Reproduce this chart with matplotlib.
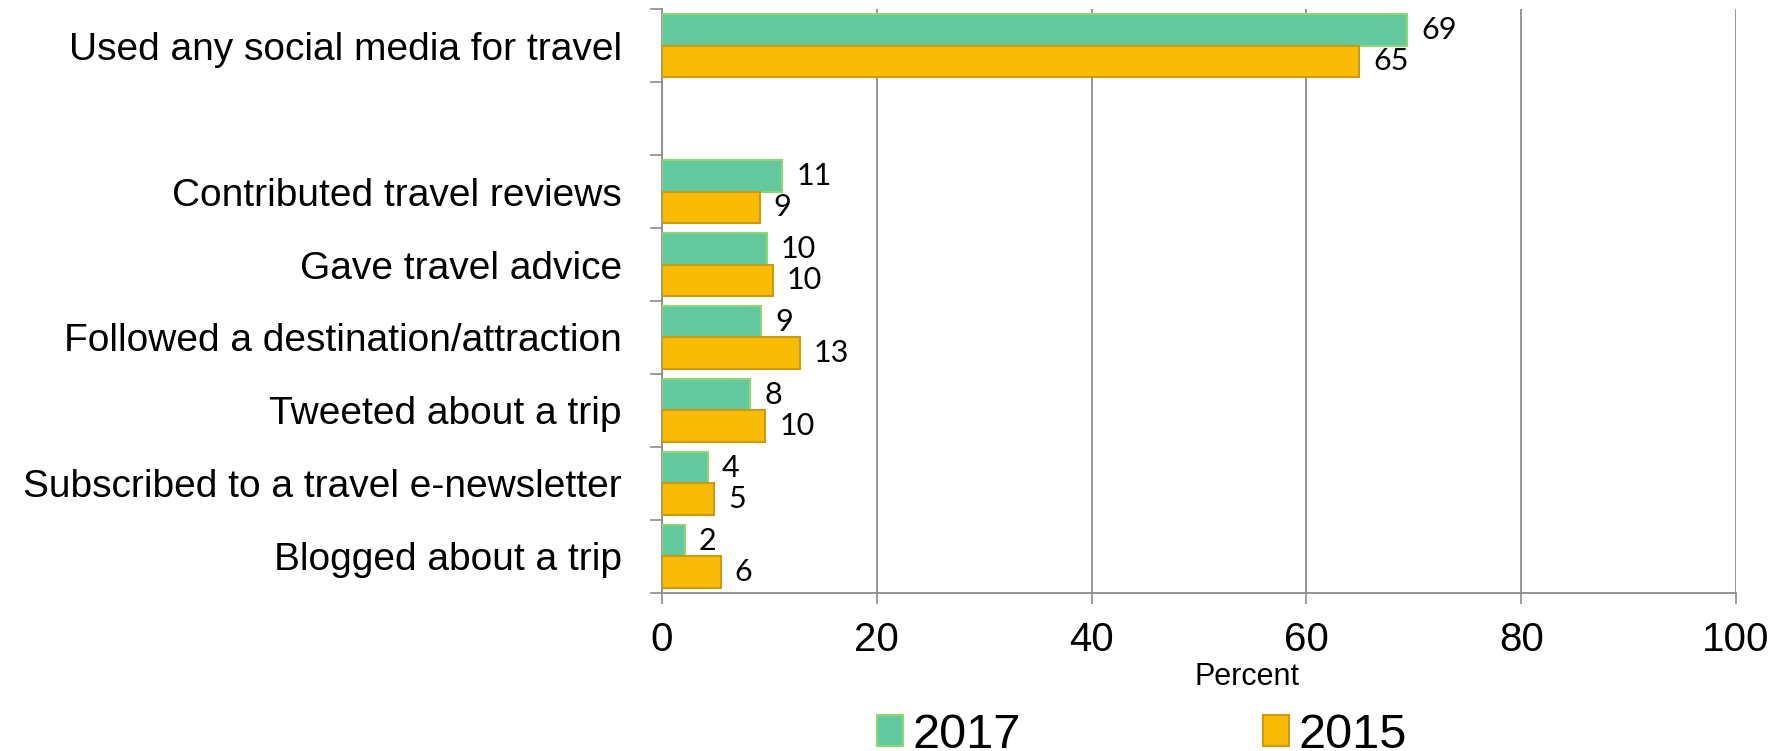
import matplotlib.pyplot as plt
import numpy as np

# ── DATA ──
CATEGORIES = [
    "Used any social media for travel",
    "Contributed travel reviews",
    "Gave travel advice",
    "Followed a destination/attraction",
    "Tweeted about a trip",
    "Subscribed to a travel e-newsletter",
    "Blogged about a trip",
]
VALUES_2017 = [69.4, 11.2, 9.75, 9.25, 8.2, 4.25, 2.15]
VALUES_2015 = [64.9, 9.1, 10.3, 12.8, 9.6, 4.85, 5.45]
LABELS_2017 = ["69", "11", "10", "9", "8", "4", "2"]
LABELS_2015 = ["65", "9", "10", "13", "10", "5", "6"]
X_TICKS = [0, 20, 40, 60, 80, 100]

GREEN, GREEN_EDGE = "#62C89D", "#8BD873"
YELLOW, YELLOW_EDGE = "#F8BC06", "#CC9A0E"
GRID = "#8C8C8C"

# ── FIGURE ──
fig = plt.figure(figsize=(17.87, 7.51), dpi=100)
ax = fig.add_axes([0.3705, 0.2104, 0.6010, 0.7776])

# first category sits alone, then one empty slot before the rest
n = len(CATEGORIES)
centers = np.arange(n) + 0.5 + (np.arange(n) > 0)
h = 0.4375

ax.barh(centers - h / 2, VALUES_2017, height=h, color=GREEN,
        edgecolor=GREEN_EDGE, linewidth=1.5, zorder=3, label="2017")
ax.barh(centers + h / 2, VALUES_2015, height=h, color=YELLOW,
        edgecolor=YELLOW_EDGE, linewidth=1.5, zorder=3, label="2015")

for yc, v, t in zip(centers - h / 2, VALUES_2017, LABELS_2017):
    ax.annotate(t, (v, yc), xytext=(10, 0), textcoords="offset points",
                va="center", ha="left", fontsize=22, family="Lato")
for yc, v, t in zip(centers + h / 2, VALUES_2015, LABELS_2015):
    ax.annotate(t, (v, yc), xytext=(10, 0), textcoords="offset points",
                va="center", ha="left", fontsize=22, family="Lato")

ax.set_xlim(0, 100)
ax.set_ylim(n + 1, 0)

# ticks at slot boundaries, labels at slot centres
ax.set_yticks(np.arange(n + 2))
ax.set_yticklabels([])
ax.set_yticks(centers, minor=True)
ax.set_yticklabels(CATEGORIES, minor=True, family="Liberation Sans", fontsize=28)
ax.tick_params(axis="y", which="major", length=9, width=1.2, color=GRID, direction="out")
ax.tick_params(axis="y", which="minor", length=0, pad=29)

ax.set_xticks(X_TICKS)
ax.set_xticklabels([str(x) for x in X_TICKS], family="Liberation Sans", fontsize=29)
ax.tick_params(axis="x", length=8, width=1.2, color=GRID, pad=12)

ax.grid(axis="x", color=GRID, linewidth=1.3, zorder=0)
for s in ["top", "right"]:
    ax.spines[s].set_visible(False)
for s in ["left", "bottom"]:
    ax.spines[s].set_color(GRID)
    ax.spines[s].set_linewidth(1.3)

fig.text(0.698, 0.098, "Percent", ha="center", va="center",
         family="Liberation Sans", fontsize=22)

fig.legend(loc="upper left", bbox_to_anchor=(0.4908, 0.051), ncol=2,
           frameon=False, prop={"family": "Liberation Sans", "size": 35},
           handlelength=0.54, handleheight=0.6, handletextpad=0.19,
           columnspacing=4.97, borderpad=0, borderaxespad=0)

fig.savefig("out.png", dpi=100)
